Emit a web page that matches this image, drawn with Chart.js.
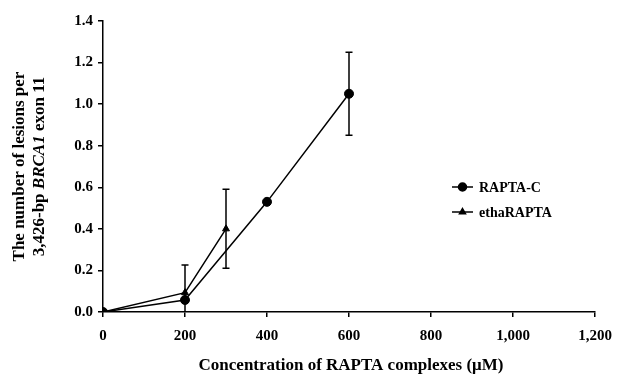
<!DOCTYPE html>
<html>
<head>
<meta charset="utf-8">
<script src="https://cdn.jsdelivr.net/npm/chart.js@4.4.1/dist/chart.umd.min.js"></script>
<style>
  html, body { margin: 0; padding: 0; background: #fff; }
  #wrap { width: 619px; height: 378px; }
</style>
</head>
<body>
<div id="wrap"><canvas id="chart" width="619" height="378"></canvas></div>
<script>
// data
const concRaptaC = [0, 200, 400, 600];
const lesionsRaptaC = [0, 0.058, 0.53, 1.05];
const errRaptaC = [0, 0, 0, 0.2];

const concEtha = [0, 200, 300];
const lesionsEtha = [0, 0.093, 0.40];
const errEtha = [0, 0.133, 0.19];

const seriesNames = ["RAPTA-C", "ethaRAPTA"];
const xTickValues = [0, 200, 400, 600, 800, 1000, 1200];
const yTickValues = [0, 0.2, 0.4, 0.6, 0.8, 1.0, 1.2, 1.4];

const FONT = "'Liberation Serif', 'Times New Roman', serif";

function toPoints(xs, ys) {
  return xs.map((x, i) => ({ x: x, y: ys[i] }));
}

// Error bars drawn through the scales
const errorBarPlugin = {
  id: "errorBars",
  afterDatasetsDraw(chart) {
    const ctx = chart.ctx;
    const yScale = chart.scales.y;
    const area = chart.chartArea;
    ctx.save();
    ctx.beginPath();
    ctx.rect(area.left - 10, area.top - 10, area.right - area.left + 20, area.bottom - area.top + 10);
    ctx.clip();
    ctx.strokeStyle = "#000";
    ctx.lineWidth = 1.5;
    chart.data.datasets.forEach((ds, di) => {
      const meta = chart.getDatasetMeta(di);
      ds.errors.forEach((err, i) => {
        if (!err) return;
        const pt = meta.data[i];
        const v = ds.data[i].y;
        const yTop = yScale.getPixelForValue(v + err);
        const yBot = yScale.getPixelForValue(v - err);
        ctx.beginPath();
        ctx.moveTo(pt.x, yTop);
        ctx.lineTo(pt.x, yBot);
        ctx.moveTo(pt.x - 3.5, yTop);
        ctx.lineTo(pt.x + 3.5, yTop);
        ctx.moveTo(pt.x - 3.5, yBot);
        ctx.lineTo(pt.x + 3.5, yBot);
        ctx.stroke();
      });
    });
    ctx.restore();
  }
};

// Axis titles and legend
const labelsPlugin = {
  id: "labels",
  afterDraw(chart) {
    const ctx = chart.ctx;
    const area = chart.chartArea;
    ctx.save();
    ctx.fillStyle = "#000";
    ctx.textBaseline = "middle";

    // x title
    ctx.font = "bold 17px " + FONT;
    ctx.textAlign = "center";
    ctx.fillText("Concentration of RAPTA complexes (\u03BCM)", 351, 366);

    // y title, two lines rotated
    const midY = (area.top + area.bottom) / 2;
    ctx.save();
    ctx.translate(20, midY);
    ctx.rotate(-Math.PI / 2);
    ctx.font = "bold 17px " + FONT;
    ctx.fillText("The number of lesions per", 0, 0);
    ctx.restore();

    ctx.save();
    ctx.translate(40, midY);
    ctx.rotate(-Math.PI / 2);
    const parts = [
      ["3,426-bp ", "bold 17px " + FONT],
      ["BRCA1", "italic bold 17px " + FONT],
      [" exon 11", "bold 17px " + FONT]
    ];
    let total = 0;
    parts.forEach((p) => { ctx.font = p[1]; total += ctx.measureText(p[0]).width; });
    let x = -total / 2;
    ctx.textAlign = "left";
    parts.forEach((p) => {
      ctx.font = p[1];
      ctx.fillText(p[0], x, 0);
      x += ctx.measureText(p[0]).width;
    });
    ctx.restore();

    // legend
    const rows = [187, 212];
    ctx.font = "bold 14px " + FONT;
    ctx.textAlign = "left";
    chart.data.datasets.forEach((ds, i) => {
      const y = rows[i];
      ctx.strokeStyle = "#000";
      ctx.lineWidth = 1.5;
      ctx.beginPath();
      ctx.moveTo(452, y);
      ctx.lineTo(473, y);
      ctx.stroke();
      Chart.helpers.drawPoint(ctx, {
        pointStyle: ds.pointStyle,
        radius: ds.pointRadius - 0.5,
        rotation: 0,
        borderWidth: 1
      }, 462.5, y);
      ctx.fillStyle = "#000";
      ctx.fillText(ds.label, 479, y + 1);
    });
    ctx.restore();
  }
};

new Chart(document.getElementById("chart"), {
  type: "scatter",
  data: {
    datasets: [
      {
        label: seriesNames[0],
        data: toPoints(concRaptaC, lesionsRaptaC),
        errors: errRaptaC,
        showLine: true,
        borderColor: "#000",
        backgroundColor: "#000",
        borderWidth: 1.5,
        pointStyle: "circle",
        pointRadius: 4.5,
        pointBorderWidth: 1
      },
      {
        label: seriesNames[1],
        data: toPoints(concEtha, lesionsEtha),
        errors: errEtha,
        showLine: true,
        borderColor: "#000",
        backgroundColor: "#000",
        borderWidth: 1.5,
        pointStyle: "triangle",
        pointRadius: 4,
        pointBorderWidth: 1
      }
    ]
  },
  options: {
    responsive: false,
    animation: false,
    layout: { padding: { top: 21, right: 24, left: 0, bottom: 0 } },
    plugins: {
      legend: { display: false },
      tooltip: { enabled: false }
    },
    scales: {
      x: {
        type: "linear",
        min: 0,
        max: 1200,
        afterBuildTicks(scale) {
          scale.ticks = xTickValues.map((v) => ({ value: v }));
        },
        afterFit(scale) {
          scale.height = 66;
          scale.paddingLeft = 0;
          scale.paddingRight = 0;
        },
        grid: { drawOnChartArea: false, drawTicks: true, tickLength: 5, color: "#000", lineWidth: 1.5 },
        border: { color: "#000", width: 1.5 },
        ticks: {
          color: "#000",
          padding: 10,
          maxRotation: 0,
          font: { family: FONT, size: 15, weight: "bold" },
          callback: (v) => v.toLocaleString("en-US")
        }
      },
      y: {
        type: "linear",
        min: 0,
        max: 1.4,
        afterBuildTicks(scale) {
          scale.ticks = yTickValues.map((v) => ({ value: v }));
        },
        afterFit(scale) {
          scale.width = 103;
          scale.paddingTop = 0;
          scale.paddingBottom = 0;
        },
        grid: { drawOnChartArea: false, drawTicks: true, tickLength: 5, color: "#000", lineWidth: 1.5 },
        border: { color: "#000", width: 1.5 },
        ticks: {
          color: "#000",
          padding: 5,
          font: { family: FONT, size: 15, weight: "bold" },
          callback: (v) => v.toFixed(1)
        }
      }
    }
  },
  plugins: [errorBarPlugin, labelsPlugin]
});
</script>
</body>
</html>
